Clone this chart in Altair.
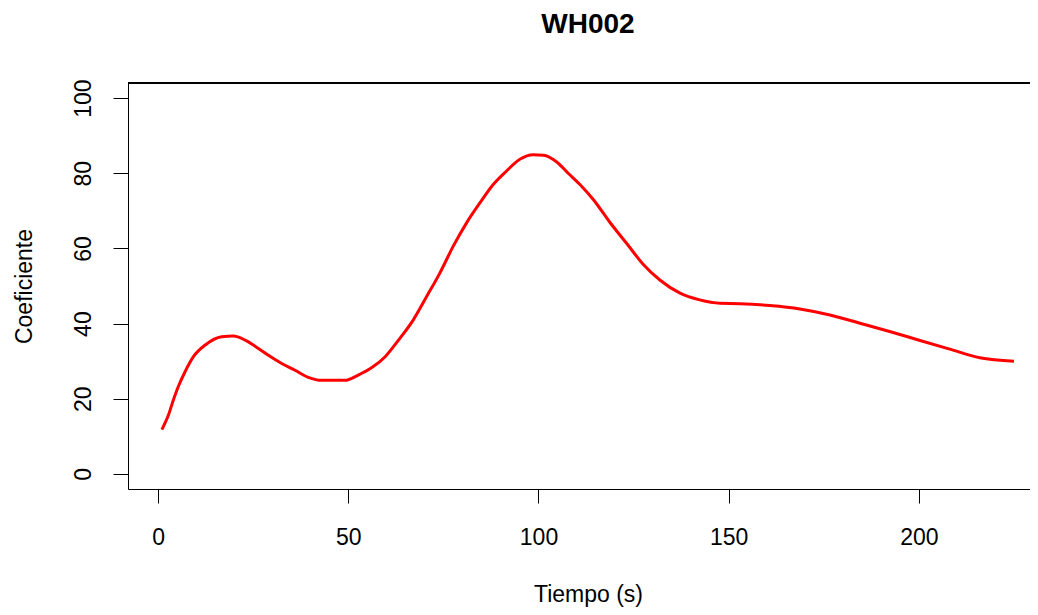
import altair as alt
import pandas as pd

time_s = [1.0, 2.7, 4.0, 5.3, 7.1, 9.3, 12.4, 16.7, 19.8, 22.9, 25.5, 29.0, 32.5, 36.0,
          39.5, 43.0, 49.1, 52.6, 56.2, 59.7, 63.2, 67.1, 70.6, 74.1, 77.6, 81.1, 84.6,
          88.1, 91.6, 95.1, 98.6, 101.3, 104.8, 107.8, 110.9, 114.4, 118.8, 123.2,
          127.5, 131.9, 137.2, 142.4, 147.7, 153.0, 160.8, 168.7, 176.6, 184.5, 192.3,
          200.3, 208.1, 216.0, 225.0]
coef = [11.8, 15.6, 19.6, 23.2, 27.2, 31.2, 34.3, 36.5, 36.7, 35.6, 34.0, 31.6, 29.4,
        27.6, 25.7, 24.9, 24.9, 26.3, 28.3, 31.2, 35.6, 41.0, 47.2, 53.5, 60.6, 66.8,
        72.1, 77.0, 80.6, 83.7, 84.9, 84.8, 83.0, 80.0, 77.0, 73.0, 66.9, 61.3, 55.8,
        51.6, 48.1, 46.3, 45.4, 45.3, 44.8, 43.9, 42.3, 40.1, 37.9, 35.5, 33.2, 30.9,
        30.0]
x_ticks = [0, 50, 100, 150, 200]
y_ticks = [0, 20, 40, 60, 80, 100]

df = pd.DataFrame({"t": time_s, "c": coef})
FONT = "Liberation Sans"
W, H = 902, 406

line = alt.Chart(df).mark_line(color="#FF0000", strokeWidth=3, interpolate="monotone").encode(
    x=alt.X("t:Q",
            scale=alt.Scale(domain=[-7.9, 229.2], nice=False, zero=False),
            axis=alt.Axis(values=x_ticks, title="Tiempo (s)", grid=False,
                          domainColor="#000000", tickColor="#000000", tickSize=14,
                          labelFont=FONT, labelFontSize=23, labelColor="#000000",
                          labelBaseline="middle", labelPadding=34, labelFlush=False,
                          titleFont=FONT, titleFontSize=23, titleFontWeight="normal",
                          titleColor="#000000", titleX=460, titleY=105,
                          titleBaseline="middle", titleAlign="center")),
    y=alt.Y("c:Q",
            scale=alt.Scale(domain=[-4, 104], nice=False, zero=False),
            axis=alt.Axis(values=y_ticks, title="Coeficiente", grid=False,
                          domainColor="#000000", tickColor="#000000", tickSize=15,
                          labelFont=FONT, labelFontSize=23, labelColor="#000000",
                          labelAngle=270, labelAlign="center", labelBaseline="middle",
                          labelPadding=30,
                          titleFont=FONT, titleFontSize=23, titleFontWeight="normal",
                          titleColor="#000000", titleAngle=270, titleX=-104, titleY=203,
                          titleBaseline="middle", titleAlign="center")),
)

top_border = alt.Chart(df).mark_rule(color="#000000", strokeWidth=1).encode(
    x=alt.value(0), x2=alt.value(W), y=alt.value(0)
)

chart = alt.layer(line, top_border).properties(
    width=W, height=H,
    title=alt.TitleParams("WH002", font=FONT, fontSize=28, fontWeight="bold",
                          color="#000000", anchor="middle", frame="group", dx=9, offset=40),
    autosize=alt.AutoSizeParams(type="none"),
    padding={"left": 120, "top": 75, "right": 0, "bottom": 118},
).configure_view(stroke=None).configure(background="#FFFFFF")

chart.save("out.html", embed_options={"renderer": "svg", "actions": False})
